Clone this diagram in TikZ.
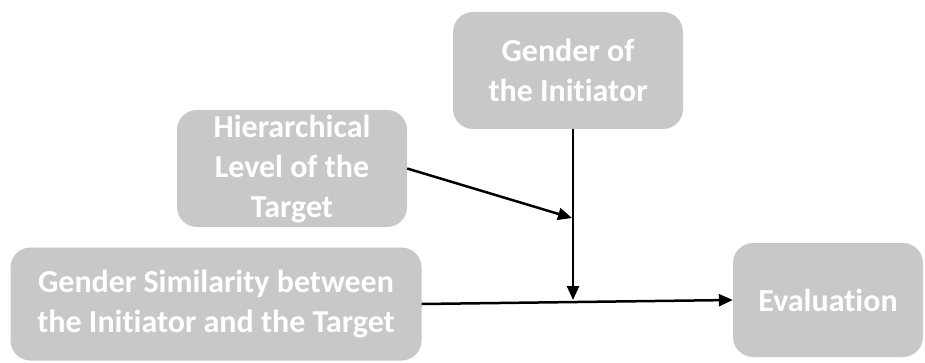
\documentclass[tikz,border=0pt]{standalone}
\usepackage{fontspec}
\setmainfont[Ligatures={NoCommon}]{Carlito}
\usetikzlibrary{arrows.meta}
\definecolor{boxgray}{RGB}{200,200,200}
\tikzset{
  box/.style={rectangle, rounded corners=20pt, fill=boxgray, draw=none, text=white,
    align=center, inner sep=0pt, font=\fontsize{32}{40}\selectfont\bfseries},
  conn/.style={line width=2.5pt, draw=black, -{Triangle[length=14pt,width=12pt]}}
}
\begin{document}
\begin{tikzpicture}[x=1pt,y=-1pt]
\useasboundingbox (0,0) rectangle (925,363);
\node[box, minimum width=230pt, minimum height=117pt] (init) at (568,70.5) {Gender of\\the Initiator};
\node[box, minimum width=230pt, minimum height=117pt] (hier) at (292,168.5) {Hierarchical\\Level of the\\Target};
\node[box, minimum width=411pt, minimum height=113pt] (sim) at (216,304)
  {Gender Similarity between\\the Initiator and the Target};
\node[box, minimum width=190pt, minimum height=114pt] (eval) at (828,300) {Evaluation};
\coordinate (m1) at (572,218);
\coordinate (m2) at (573,300);
\draw[conn] ([xshift=5pt]init.south) -- (m2);
\draw[conn] (hier.east) -- (m1);
\draw[conn] (sim.east) -- (eval.west);
\end{tikzpicture}
\end{document}
